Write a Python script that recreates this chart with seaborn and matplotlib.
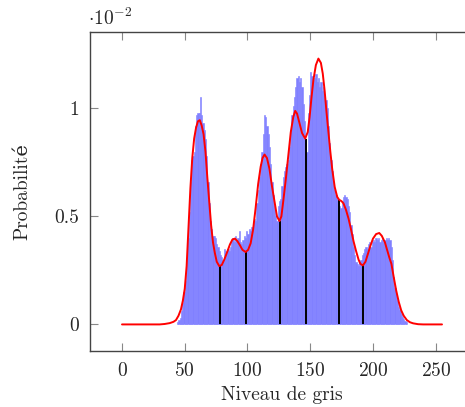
import numpy as np
import pandas as pd
import matplotlib
matplotlib.use('Agg')
import matplotlib.pyplot as plt
import seaborn as sns

# histogram (probabilities in units of 1e-2), one value per grey level from 44
hist_start = 44
hist_e2 = [
    0.01, 0.02, 0.03, 0.06, 0.10, 0.15, 0.20, 0.30, 0.40, 0.52,   # 44-53
    0.66, 0.76, 0.78, 0.80, 0.92, 0.97, 0.98, 0.98, 1.05, 0.97,   # 54-63
    0.93, 0.90, 0.86, 0.78, 0.66, 0.56, 0.48, 0.44, 0.41, 0.41,   # 64-73
    0.40, 0.37, 0.36, 0.34, 0.32, 0.31, 0.30, 0.35, 0.34, 0.33,   # 74-83
    0.35, 0.34, 0.36, 0.39, 0.40, 0.38, 0.41, 0.39, 0.40, 0.43,   # 84-93
    0.38, 0.37, 0.39, 0.41, 0.40, 0.43, 0.42, 0.44, 0.43, 0.45,   # 94-103
    0.47, 0.49, 0.48, 0.56, 0.62, 0.68, 0.74, 0.80, 0.88, 0.97,   # 104-113
    0.96, 0.92, 0.88, 0.82, 0.74, 0.66, 0.60, 0.55, 0.50, 0.48,   # 114-123
    0.55, 0.57, 0.58, 0.64, 0.68, 0.71, 0.73, 0.74, 0.76, 0.82,   # 124-133
    0.90, 0.97, 1.01, 1.05, 1.10, 1.14, 1.15, 1.12, 1.14, 1.10,   # 134-143
    1.02, 0.94, 0.86, 0.80, 0.98, 1.06, 1.17, 1.15, 1.13, 1.14,   # 144-153
    1.16, 1.12, 1.14, 1.10, 1.12, 1.08, 1.10, 1.06, 1.04, 1.00,   # 154-163
    0.92, 0.84, 0.76, 0.71, 0.66, 0.62, 0.60, 0.58, 0.56, 0.55,   # 164-173
    0.54, 0.57, 0.59, 0.60, 0.59, 0.58, 0.55, 0.52, 0.46, 0.42,   # 174-183
    0.36, 0.32, 0.29, 0.28, 0.27, 0.29, 0.30, 0.32, 0.33, 0.35,   # 184-193
    0.36, 0.35, 0.37, 0.38, 0.36, 0.38, 0.39, 0.38, 0.40, 0.39,   # 194-203
    0.40, 0.38, 0.39, 0.40, 0.38, 0.39, 0.40, 0.39, 0.40, 0.39,   # 204-213
    0.36, 0.30, 0.22, 0.17, 0.14, 0.11, 0.08, 0.065, 0.05, 0.035, # 214-223
    0.025, 0.015, 0.01,                                          # 224-226
]
grey_levels = np.arange(hist_start, hist_start + len(hist_e2))

# smoothed density curve (red)
curve_x = [0, 10, 20, 30, 34, 38, 41, 43, 45, 47, 48.5, 50, 51.5, 53, 54.5, 56,
           57.5, 59, 60.5, 62, 63.5, 65, 66.5, 68, 69.5, 71, 72.5, 74, 75.5,
           77.5, 79.5, 81.5, 83.5, 86, 88, 90, 92, 94, 96, 98.5, 100.5, 102.5,
           104.5, 106.5, 108.5, 110.5, 112, 113.6, 115.5, 117.5, 119.5, 121.5,
           123.5, 125.5, 127, 128.5, 130.5, 132.5, 134.5, 136.5, 138, 139.5,
           141.5, 143.5, 146, 148, 149.5, 151, 152.5, 154.5, 156.5, 158.5, 160,
           161.5, 163, 164.5, 166, 167.5, 169.5, 171.5, 173, 175, 176.5, 178.5,
           180.5, 182.5, 184.5, 186.5, 188.5, 190, 192, 194, 196, 198, 200,
           202.5, 205, 207, 209.5, 211.5, 213, 214.7, 216.5, 218.5, 220.5,
           222.5, 224.5, 227, 229.5, 232, 236, 240, 255]
curve_e2 = [0, 0, 0, 0, 0.002, 0.006, 0.012, 0.02, 0.04, 0.07, 0.11, 0.165, 0.27,
            0.45, 0.63, 0.77, 0.86, 0.91, 0.94, 0.945, 0.92, 0.88, 0.80, 0.68,
            0.57, 0.46, 0.38, 0.33, 0.29, 0.27, 0.275, 0.30, 0.33, 0.37, 0.393,
            0.397, 0.385, 0.366, 0.345, 0.335, 0.345, 0.375, 0.44, 0.54, 0.65,
            0.73, 0.77, 0.786, 0.77, 0.72, 0.64, 0.57, 0.50, 0.478, 0.50, 0.57,
            0.67, 0.78, 0.89, 0.96, 0.988, 0.975, 0.93, 0.885, 0.86, 0.89, 0.96,
            1.05, 1.13, 1.20, 1.23, 1.21, 1.16, 1.08, 0.98, 0.89, 0.80, 0.72,
            0.636, 0.59, 0.577, 0.57, 0.56, 0.53, 0.49, 0.44, 0.385, 0.34, 0.30,
            0.28, 0.273, 0.29, 0.327, 0.365, 0.397, 0.418, 0.423, 0.41, 0.38,
            0.34, 0.31, 0.28, 0.22, 0.157, 0.105, 0.065, 0.04, 0.02, 0.01, 0.005,
            0.001, 0, 0]

# thresholds (vertical black lines) and curve height there
seuils = [77.8, 98.5, 125.6, 146.3, 172.9, 192.0]
seuils_e2 = [0.27, 0.335, 0.478, 0.86, 0.576, 0.273]

sns.set_style('ticks')
plt.rcParams['font.family'] = ['cmr10', 'DejaVu Serif']
plt.rcParams['mathtext.fontset'] = 'cm'
plt.rcParams['axes.unicode_minus'] = False
plt.rcParams['axes.formatter.use_mathtext'] = True

fig = plt.figure(figsize=(4.65, 4.07), dpi=100)
ax = fig.add_axes([90 / 465, 1 - 351 / 407, 384 / 465, 319 / 407])

df = pd.DataFrame({'niveau': grey_levels, 'proba': hist_e2})
sns.histplot(data=df, x='niveau', weights='proba', binwidth=1,
             binrange=(hist_start, hist_start + len(hist_e2)),
             color='#8080ff', alpha=1.0, edgecolor='#8080ff', linewidth=0.4,
             ax=ax)

ax.vlines(seuils, 0, seuils_e2, color='black', lw=1.4, zorder=3)
sns.lineplot(x=curve_x, y=curve_e2, color='red', lw=1.4, ax=ax, zorder=4)

ax.set_xlim(-25.5, 280.5)
ax.set_ylim(-0.123, 1.353)
ax.set_xticks([0, 50, 100, 150, 200, 250])
ax.set_yticks([0, 0.5, 1])
ax.set_yticklabels(['0', '0.5', '1'])
ax.tick_params(direction='in', length=6, width=0.8, color='#888888',
               labelsize=14, top=True, right=True, pad=8)
for s in ax.spines.values():
    s.set_color('#444444')
    s.set_linewidth(1.0)

ax.set_xlabel('Niveau de gris', fontsize=14, labelpad=4)
ax.set_ylabel('Probabilité', fontsize=14, labelpad=16)
ax.text(-0.005, 1.01, r'$\cdot 10^{-2}$', transform=ax.transAxes,
        fontsize=14, ha='left', va='bottom')

fig.savefig('out.png', dpi=100)
